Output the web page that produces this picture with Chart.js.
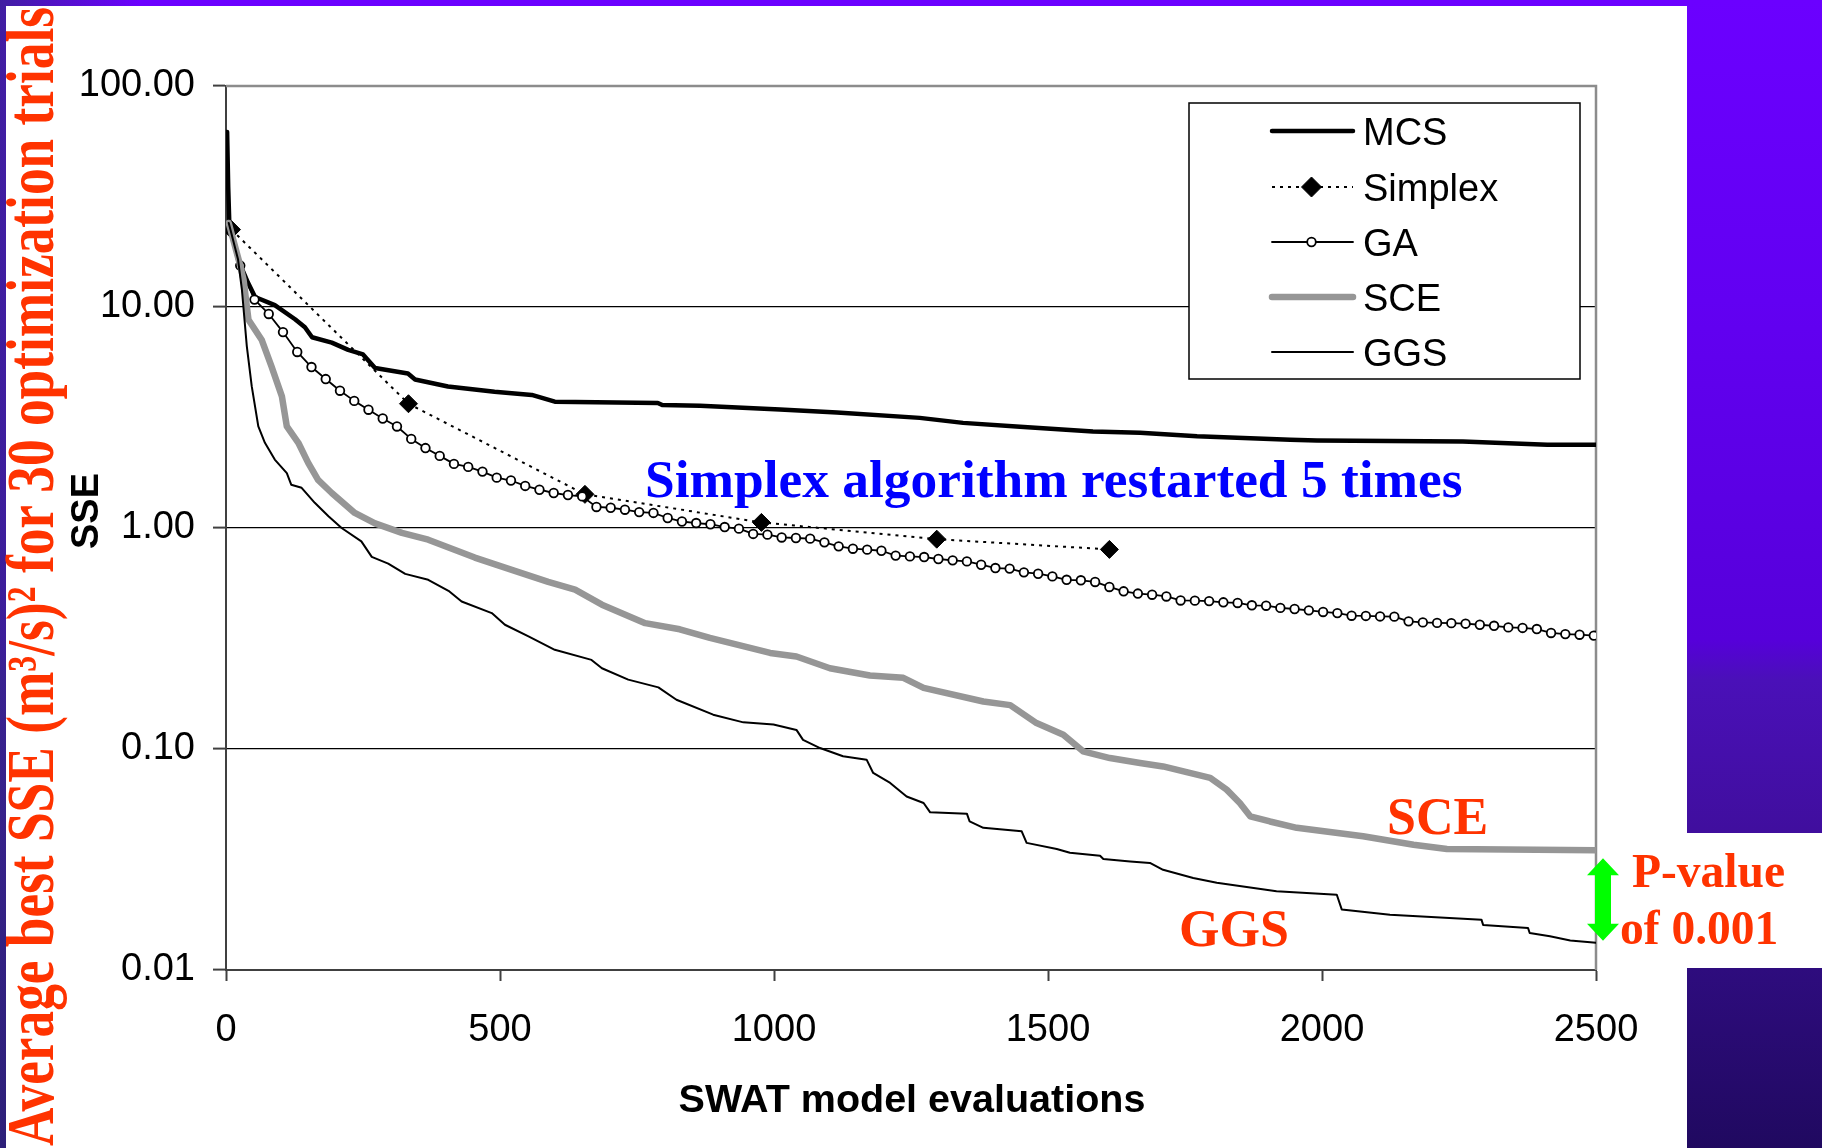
<!DOCTYPE html>
<html>
<head>
<meta charset="utf-8">
<title>Average best SSE for 30 optimization trials</title>
<script src="https://cdn.jsdelivr.net/npm/chart.js@4.4.1/dist/chart.umd.min.js"></script>
<style>
html,body{margin:0;padding:0;width:1822px;height:1148px;overflow:hidden;}
body{position:relative;background:linear-gradient(180deg,#6b00ff 0px,#6200f2 300px,#5600da 640px,#4a10b8 680px,#400e9e 830px,#2e0c7e 968px,#200960 1148px);}
#shade{position:absolute;left:0;top:0;width:140px;height:1148px;background:linear-gradient(90deg,rgba(50,40,130,0.75),rgba(50,40,130,0));}
#panel{position:absolute;left:6px;top:6px;width:1681px;height:1142px;background:#fff;}
#pbox{position:absolute;left:1687px;top:833px;width:135px;height:135px;background:#fff;}
#c{position:absolute;left:0;top:0;width:1822px;height:1148px;}
#texts{position:absolute;left:0;top:0;width:1822px;height:1148px;}
</style>
</head>
<body>
<div id="shade"></div>
<div id="panel"></div>
<div id="pbox"></div>
<canvas id="c" width="1822" height="1148"></canvas>
<div id="texts"></div>
<script>
// ---------------- data ----------------
const seriesNames = ['MCS', 'Simplex', 'GA', 'SCE', 'GGS'];

const xTickValues = [0, 500, 1000, 1500, 2000, 2500];
const xTickLabels = ['0', '500', '1000', '1500', '2000', '2500'];
const yTickValues = [0.01, 0.1, 1, 10, 100];
const yTickLabels = ['0.01', '0.10', '1.00', '10.00', '100.00'];

const mcsX = [2, 4, 6, 22, 40, 53, 89, 126, 144, 157, 193, 223, 250, 272, 332, 345, 405, 490, 558, 600, 788, 796, 865, 1011, 1115, 1266, 1345, 1449, 1582, 1668, 1772, 1942, 1991, 2257, 2411, 2500];
const mcsY = [62, 35, 24, 16.4, 12.9, 11.1, 10.2, 8.8, 8.1, 7.3, 6.9, 6.4, 6.1, 5.3, 5.0, 4.7, 4.37, 4.14, 4.0, 3.73, 3.68, 3.6, 3.57, 3.44, 3.33, 3.15, 2.99, 2.87, 2.73, 2.70, 2.60, 2.51, 2.49, 2.46, 2.38, 2.38];

const simplexX = [10, 333, 655, 977, 1297, 1612];
const simplexY = [22.4, 3.65, 1.42, 1.06, 0.89, 0.80];

const gaX = [26, 52, 78, 104, 130, 156, 182, 208, 234, 260, 286, 312, 338, 364, 390, 416, 442, 468, 494, 520,
  546, 572, 598, 624, 650, 676, 702, 728, 754, 780, 806, 832, 858, 884, 910, 936, 962, 988, 1014, 1040,
  1066, 1092, 1118, 1144, 1170, 1196, 1222, 1248, 1274, 1300, 1326, 1352, 1378, 1404, 1430, 1456, 1482, 1508, 1534, 1560,
  1586, 1612, 1638, 1664, 1690, 1716, 1742, 1768, 1794, 1820, 1846, 1872, 1898, 1924, 1950, 1976, 2002, 2028, 2054, 2080,
  2106, 2132, 2158, 2184, 2210, 2236, 2262, 2288, 2314, 2340, 2366, 2392, 2418, 2444, 2470, 2496];
const gaY = [15.4, 10.8, 9.3, 7.7, 6.26, 5.35, 4.72, 4.18, 3.76, 3.43,
  3.13, 2.88, 2.53, 2.30, 2.12, 1.95, 1.89, 1.80, 1.69, 1.64,
  1.55, 1.49, 1.44, 1.41, 1.39, 1.245, 1.235, 1.21, 1.18, 1.17,
  1.11, 1.07, 1.053, 1.04, 1.01, 0.993, 0.94, 0.933, 0.906, 0.901,
  0.895, 0.861, 0.826, 0.806, 0.798, 0.789, 0.75, 0.744, 0.739, 0.724,
  0.714, 0.706, 0.682, 0.659, 0.655, 0.63, 0.621, 0.604, 0.583, 0.580,
  0.57, 0.541, 0.517, 0.505, 0.499, 0.49, 0.47, 0.469, 0.467, 0.461,
  0.458, 0.447, 0.445, 0.435, 0.43, 0.424, 0.417, 0.412, 0.401, 0.400,
  0.398, 0.397, 0.378, 0.374, 0.372, 0.371, 0.369, 0.365, 0.361, 0.355,
  0.353, 0.349, 0.335, 0.331, 0.329, 0.326];

const sceX = [5, 26, 32, 41, 65, 83, 102, 111, 132, 150, 168, 193, 235, 272, 321, 369, 454, 527, 588, 637, 686, 765, 828, 883, 993, 1041, 1102, 1175, 1236, 1273, 1382, 1431, 1479, 1528, 1564, 1613, 1668, 1710, 1796, 1826, 1850, 1869, 1905, 1954, 2075, 2167, 2228, 2500];
const sceY = [24, 15.4, 13.3, 8.76, 7.11, 5.38, 3.94, 2.88, 2.43, 1.97, 1.65, 1.44, 1.17, 1.05, 0.95, 0.885, 0.735, 0.64, 0.57, 0.526, 0.45, 0.371, 0.348, 0.318, 0.272, 0.262, 0.232, 0.215, 0.21, 0.189, 0.164, 0.158, 0.131, 0.116, 0.0976, 0.091, 0.0864, 0.0834, 0.074, 0.0655, 0.057, 0.0496, 0.047, 0.044, 0.0403, 0.0369, 0.0353, 0.0348];

const ggsX = [5, 22, 29, 38, 47, 59, 71, 89, 111, 119, 138, 162, 187, 211, 247, 266, 296, 327, 369, 406, 430, 485, 509, 552, 600, 667, 686, 734, 789, 822, 889, 944, 999, 1041, 1053, 1084, 1126, 1169, 1181, 1212, 1242, 1273, 1285, 1352, 1357, 1382, 1452, 1461, 1516, 1540, 1595, 1601, 1650, 1686, 1710, 1765, 1808, 1917, 2027, 2036, 2124, 2291, 2294, 2376, 2379, 2416, 2453, 2500];
const ggsY = [24, 16.4, 12.0, 6.64, 4.37, 2.88, 2.43, 2.04, 1.77, 1.57, 1.52, 1.30, 1.13, 1.0, 0.87, 0.74, 0.69, 0.62, 0.583, 0.52, 0.465, 0.412, 0.365, 0.323, 0.281, 0.253, 0.232, 0.206, 0.19, 0.167, 0.143, 0.132, 0.129, 0.122, 0.110, 0.101, 0.0927, 0.0895, 0.0779, 0.0702, 0.061, 0.057, 0.0517, 0.051, 0.047, 0.044, 0.0424, 0.0376, 0.0353, 0.0339, 0.0329, 0.0318, 0.031, 0.0305, 0.0284, 0.0261, 0.0248, 0.0227, 0.0219, 0.0188, 0.0178, 0.0169, 0.016, 0.0155, 0.0147, 0.0142, 0.0136, 0.0133];

// ---------------- chart ----------------
const pts = (xs, ys) => xs.map((x, i) => ({x: x, y: ys[i]}));
const SANS = "'Liberation Sans', Arial, sans-serif";
const SERIF = "'Liberation Serif', 'Times New Roman', serif";
Chart.defaults.font.family = SANS;
Chart.defaults.color = '#000';

const datasets = [
  {label: seriesNames[0], data: pts(mcsX, mcsY), borderColor: '#000', borderWidth: 4.5, pointRadius: 0, order: 5},
  {label: seriesNames[1], data: pts(simplexX, simplexY), borderColor: '#000', borderWidth: 2, borderDash: [3, 5],
   pointStyle: 'rectRot', pointRadius: 9, pointBackgroundColor: '#000', pointBorderColor: '#000', pointBorderWidth: 1, legendRadius: 10, order: 4},
  {label: seriesNames[2], data: pts(gaX, gaY), borderColor: '#000', borderWidth: 1.8,
   pointStyle: 'circle', pointRadius: 4.3, pointBackgroundColor: '#fff', pointBorderColor: '#000', pointBorderWidth: 1.8, legendRadius: 4.3, order: 3},
  {label: seriesNames[3], data: pts(sceX, sceY), borderColor: '#969696', borderWidth: 6.5, pointRadius: 0, order: 2},
  {label: seriesNames[4], data: pts(ggsX, ggsY), borderColor: '#000', borderWidth: 2, pointRadius: 0, order: 1}
];
datasets.forEach(d => { d.showLine = true; d.fill = false; d.tension = 0; d.borderJoinStyle = 'round'; d.borderCapStyle = d.borderDash ? 'butt' : 'round'; });

const decor = {
  id: 'decor',
  beforeDatasetsDraw(chart) {
    const {ctx, chartArea: a} = chart;
    ctx.save();
    ctx.strokeStyle = '#8c8c8c';
    ctx.lineWidth = 2.5;
    ctx.beginPath();
    ctx.moveTo(a.left, a.top);
    ctx.lineTo(a.right, a.top);
    ctx.lineTo(a.right, a.bottom);
    ctx.stroke();
    ctx.restore();
  },
  afterDraw(chart) {
    const ctx = chart.ctx;
    // legend box
    const L = {left: 1189, top: 103, right: 1580, bottom: 379, rows: [131, 187, 242, 297, 352], x1: 1272, x2: 1353, tx: 1363};
    ctx.save();
    ctx.fillStyle = '#fff';
    ctx.fillRect(L.left, L.top, L.right - L.left, L.bottom - L.top);
    ctx.strokeStyle = '#000';
    ctx.lineWidth = 1.5;
    ctx.strokeRect(L.left, L.top, L.right - L.left, L.bottom - L.top);
    chart.data.datasets.forEach((ds, i) => {
      const y = L.rows[i];
      ctx.save();
      ctx.strokeStyle = ds.borderColor;
      ctx.lineWidth = ds.borderWidth;
      ctx.setLineDash(ds.borderDash || []);
      ctx.lineCap = ds.borderDash ? 'butt' : 'round';
      ctx.beginPath();
      ctx.moveTo(L.x1, y);
      ctx.lineTo(L.x2, y);
      ctx.stroke();
      ctx.setLineDash([]);
      if (ds.pointRadius > 0) {
        ctx.fillStyle = ds.pointBackgroundColor;
        ctx.strokeStyle = ds.pointBorderColor;
        ctx.lineWidth = ds.pointBorderWidth;
        Chart.helpers.drawPoint(ctx, {pointStyle: ds.pointStyle, radius: ds.legendRadius, borderWidth: ds.pointBorderWidth, rotation: 0}, (L.x1 + L.x2) / 2 - 1, y);
      }
      ctx.fillStyle = '#000';
      ctx.font = '38px ' + SANS;
      ctx.textBaseline = 'middle';
      ctx.textAlign = 'left';
      ctx.fillText(ds.label, L.tx, y + 4);
      ctx.restore();
    });
    // green double arrow between the SCE and GGS end values
    const ys = chart.scales.y, xs = chart.scales.x;
    const top = ys.getPixelForValue(sceY[sceY.length - 1]) + 8;
    const bot = ys.getPixelForValue(ggsY[ggsY.length - 1]) - 2;
    const cx = xs.getPixelForValue(xTickValues[xTickValues.length - 1]) + 7;
    const hh = 17, hw = 16, sw = 8;
    ctx.fillStyle = '#00ff00';
    ctx.beginPath();
    ctx.moveTo(cx, top);
    ctx.lineTo(cx + hw, top + hh);
    ctx.lineTo(cx + sw, top + hh);
    ctx.lineTo(cx + sw, bot - hh);
    ctx.lineTo(cx + hw, bot - hh);
    ctx.lineTo(cx, bot);
    ctx.lineTo(cx - hw, bot - hh);
    ctx.lineTo(cx - sw, bot - hh);
    ctx.lineTo(cx - sw, top + hh);
    ctx.lineTo(cx - hw, top + hh);
    ctx.closePath();
    ctx.fill();
    ctx.restore();
  }
};

new Chart(document.getElementById('c'), {
  type: 'scatter',
  data: {datasets: datasets},
  options: {
    responsive: false,
    animation: false,
    devicePixelRatio: 1,
    layout: {padding: {left: 0, right: 226, top: 86, bottom: 0}},
    plugins: {legend: {display: false}, tooltip: {enabled: false}},
    scales: {
      x: {
        type: 'linear', min: 0, max: 2500,
        afterBuildTicks: s => { s.ticks = xTickValues.map(v => ({value: v})); },
        afterFit: s => { s.height = 178; },
        ticks: {callback: (v, i) => xTickLabels[i], font: {size: 38}, padding: 27, maxRotation: 0, autoSkip: false},
        grid: {drawOnChartArea: false, drawTicks: true, tickLength: 11, tickColor: '#404040', tickWidth: 2},
        border: {display: true, color: '#404040', width: 2}
      },
      y: {
        type: 'logarithmic', min: 0.01, max: 100,
        afterBuildTicks: s => { s.ticks = yTickValues.map(v => ({value: v})); },
        afterFit: s => { s.width = 226; },
        ticks: {callback: (v, i) => yTickLabels[i], font: {size: 38}, padding: 18, autoSkip: false},
        grid: {
          color: c => (c.tick && (c.tick.value === 100 || c.tick.value === 0.01)) ? 'rgba(0,0,0,0)' : '#000',
          lineWidth: 1.2, drawTicks: true, tickLength: 13, tickColor: '#404040', tickWidth: 2
        },
        border: {display: true, color: '#404040', width: 2}
      }
    }
  },
  plugins: [decor]
});

// ---------------- texts (real DOM text) ----------------
function addText(txt, o) {
  const d = document.createElement('div');
  d.textContent = txt;
  Object.assign(d.style, {
    position: 'absolute', left: '0px', top: '0px', whiteSpace: 'nowrap',
    font: (o.weight || 'normal') + ' ' + o.size + 'px ' + o.family,
    lineHeight: o.size + 'px', color: o.color, transformOrigin: '0 0'
  });
  document.getElementById('texts').appendChild(d);
  const w = d.getBoundingClientRect().width;
  const asc = o.asc * o.size;
  const sx = o.fit ? o.fit / w : 1;
  const dx = o.align === 'center' ? -w / 2 : (o.align === 'right' ? -w : 0);
  d.style.transform = 'translate(' + o.x + 'px,' + o.y + 'px) rotate(' + (o.rot || 0) + 'deg) scale(' + sx + ',1) translate(' + dx + 'px,' + (-asc) + 'px)';
}
const SA = 0.8465, SE = 0.8375;
addText('Average best SSE (m³/s)² for 30 optimization trials', {family: SERIF, weight: 'bold', size: 68, color: '#ff3300', x: 53, y: 1146, rot: -90, fit: 1139, asc: SE});
addText('SSE', {family: SANS, weight: 'bold', size: 38, color: '#000', x: 98, y: 511, rot: -90, align: 'center', asc: SA});
addText('SWAT model evaluations', {family: SANS, weight: 'bold', size: 39.5, color: '#000', x: 912, y: 1112, align: 'center', asc: SA});
addText('Simplex algorithm restarted 5 times', {family: SERIF, weight: 'bold', size: 53.4, color: '#0000ff', x: 645, y: 498, asc: SE});
addText('SCE', {family: SERIF, weight: 'bold', size: 52, color: '#ff3300', x: 1387, y: 835, asc: SE});
addText('GGS', {family: SERIF, weight: 'bold', size: 52, color: '#ff3300', x: 1179, y: 947, asc: SE});
addText('P-value', {family: SERIF, weight: 'bold', size: 47.5, color: '#ff3300', x: 1632, y: 888, asc: SE});
addText('of 0.001', {family: SERIF, weight: 'bold', size: 47.5, color: '#ff3300', x: 1620, y: 945, asc: SE});
</script>
</body>
</html>
